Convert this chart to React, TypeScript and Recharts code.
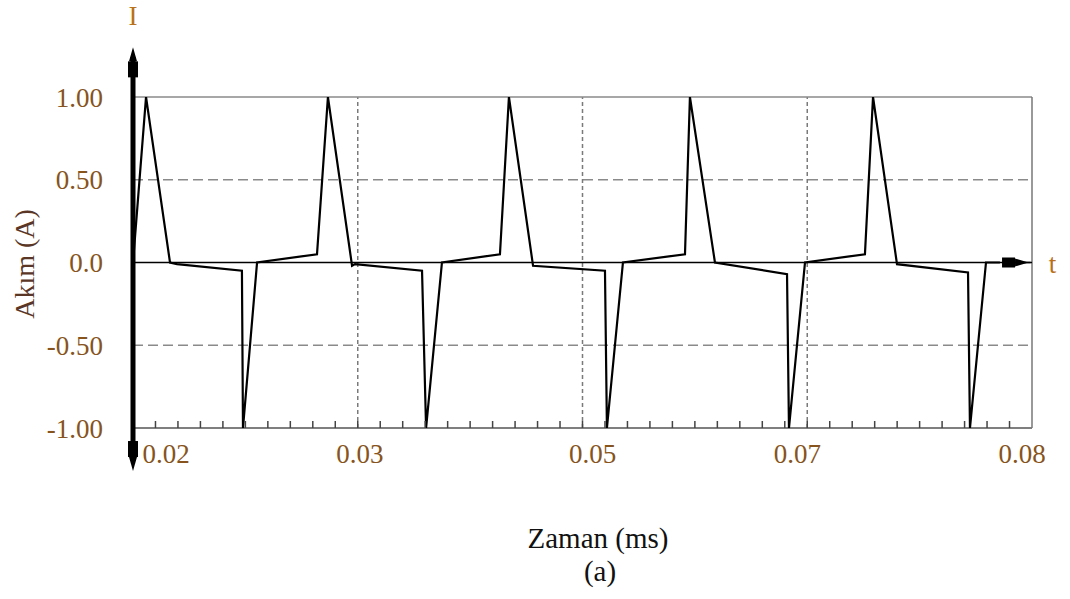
import React from 'react'
import { LineChart, Line, XAxis, YAxis, ReferenceLine } from 'recharts'

// waveform (time in ms, current in A)
const TIME_MS = [
  0.02, 0.02087, 0.02247, 0.02294, 0.02727, 0.02734, 0.02828, 0.03228, 0.03301,
  0.03462, 0.03482, 0.03929, 0.03956, 0.04062, 0.04449, 0.04509, 0.0467, 0.0515,
  0.05163, 0.0527, 0.05684, 0.05717, 0.05884, 0.06365, 0.06378, 0.06485, 0.06885,
  0.06939, 0.07099, 0.07573, 0.07586, 0.07693, 0.07786,
]
const CURRENT_A = [
  0.0, 1.0, 0.0, -0.01, -0.05, -1.0, 0.0, 0.05, 1.0,
  -0.02, -0.01, -0.05, -1.0, 0.0, 0.05, 1.0, -0.02, -0.05,
  -1.0, 0.0, 0.05, 1.0, 0.0, -0.07, -1.0, 0.0, 0.05,
  1.0, -0.01, -0.06, -1.0, 0.0, 0.0,
]

const X_TICKS = [0.02, 0.035, 0.05, 0.065, 0.08]
const X_TICK_LABELS = ['0.02', '0.03', '0.05', '0.07', '0.08']
const X_GRID = [0.035, 0.05, 0.065]
const Y_TICKS = [-1, -0.5, 0, 0.5, 1]
const Y_TICK_LABELS = ['-1.00', '-0.50', '0.0', '0.50', '1.00']
const Y_GRID = [-0.5, 0.5]
// 10 small divisions between each labelled x tick
const X_MINOR_TICKS = Array.from({ length: 39 }, (_, i) => 0.02 + (i + 1) * 0.0015)

const data = TIME_MS.map((t, i) => ({ t, i: CURRENT_A[i] }))

const FONT = '"Liberation Serif", "Times New Roman", serif'
const TICK_COLOR = '#86541c'
const ACCENT = '#b8711a'
const X_LABEL_NUDGE = [33, 2, 10, -10, -10]

const XTick = (props: any) => {
  const { x, y, index } = props
  return (
    <text x={x + X_LABEL_NUDGE[index]} y={y} dy="0.71em" textAnchor="middle" fill={TICK_COLOR} fontSize={27} fontFamily={FONT}>
      {X_TICK_LABELS[index]}
    </text>
  )
}

const YTick = (props: any) => {
  const { x, y, index } = props
  return (
    <text x={x} y={y} dy="0.36em" textAnchor="end" fill={TICK_COLOR} fontSize={27} fontFamily={FONT}>
      {Y_TICK_LABELS[index]}
    </text>
  )
}

// small inward tick marks along the bottom edge
const MinorTick = (props: any) => {
  const { x, y } = props
  return <line x1={x} y1={y} x2={x} y2={y - 7} stroke="#444" strokeWidth={1.5} />
}

// thick vertical axis with arrow heads on both ends
const VerticalAxisShape = (props: any) => {
  const { x1, y1, y2 } = props
  return (
    <g>
      <line x1={x1} y1={y1 + 10} x2={x1} y2={y2 - 10} stroke="#000" strokeWidth={5} />
      <polygon points={`${x1},${y1} ${x1 - 4},${y1 + 14} ${x1 + 4},${y1 + 14}`} fill="#000" />
      <rect x={x1 - 5} y={y1 + 14} width={10} height={16} fill="#000" />
      <rect x={x1 - 5} y={y2 - 30} width={10} height={16} fill="#000" />
      <polygon points={`${x1},${y2} ${x1 - 4},${y2 - 14} ${x1 + 4},${y2 - 14}`} fill="#000" />
      <text x={x1} y={y1 - 22} textAnchor="middle" fill={ACCENT} fontSize={27} fontFamily={FONT}>I</text>
    </g>
  )
}

const TimeArrowShape = (props: any) => {
  const { x1, y1, x2 } = props
  return (
    <g>
      <line x1={x1} y1={y1} x2={x2} y2={y1} stroke="#000" strokeWidth={1.5} />
      <rect x={x1} y={y1 - 5} width={13} height={10} fill="#000" />
      <polygon points={`${x2 - 2},${y1} ${x1 + 13},${y1 - 4} ${x1 + 13},${y1 + 4}`} fill="#000" />
      <text x={x2 + 22} y={y1 + 10} textAnchor="middle" fill={ACCENT} fontSize={27} fontFamily={FONT}>t</text>
    </g>
  )
}

export default function App() {
  return (
    <div style={{ position: 'absolute', left: 0, top: 0, width: 1070, height: 599, background: '#fff' }}>
      <LineChart width={1070} height={599} data={data} margin={{ top: 97, right: 38, bottom: 0, left: 0 }}>
        <XAxis
          dataKey="t"
          type="number"
          domain={[0.02, 0.08]}
          ticks={X_TICKS}
          interval={0}
          height={171}
          axisLine={false}
          tickLine={false}
          tickSize={0}
          tickMargin={16}
          tick={<XTick />}
          allowDataOverflow
        />
        <XAxis
          xAxisId="minor"
          dataKey="t"
          type="number"
          domain={[0.02, 0.08]}
          ticks={X_MINOR_TICKS}
          interval={0}
          height={10}
          mirror
          axisLine={false}
          tickLine={false}
          tickSize={0}
          tickMargin={0}
          tick={<MinorTick />}
          allowDataOverflow
        />
        <YAxis
          type="number"
          domain={[-1, 1]}
          ticks={Y_TICKS}
          interval={0}
          width={133}
          axisLine={false}
          tickLine={false}
          tickSize={0}
          tickMargin={30}
          tick={<YTick />}
          allowDataOverflow
          label={{
            content: () => (
              <text transform="translate(34,264) rotate(-90)" textAnchor="middle" fill="#5a3626" fontSize={28} fontFamily={FONT}>
                Akım (A)
              </text>
            ),
          }}
        />
        {Y_GRID.map((v) => (
          <ReferenceLine key={`yg${v}`} y={v} stroke="#8a8a8a" strokeWidth={1.5} strokeDasharray="10 5" />
        ))}
        {X_GRID.map((v) => (
          <ReferenceLine key={`xg${v}`} x={v} stroke="#7a7a7a" strokeWidth={1.5} strokeDasharray="4 3" />
        ))}
        <ReferenceLine y={1} stroke="#8a8a8a" strokeWidth={1.5} />
        <ReferenceLine y={-1} stroke="#555" strokeWidth={1.5} />
        <ReferenceLine x={0.08} stroke="#777" strokeWidth={1.5} />
        <ReferenceLine y={0} stroke="#000" strokeWidth={1.5} />
        <Line
          type="linear"
          dataKey="i"
          stroke="#000"
          strokeWidth={2.2}
          dot={false}
          activeDot={false}
          isAnimationActive={false}
        />
        <ReferenceLine
          segment={[{ x: 0.078, y: 0 }, { x: 0.0799, y: 0 }]}
          ifOverflow="visible"
          shape={<TimeArrowShape />}
        />
        <ReferenceLine
          segment={[{ x: 0.02, y: 1.3 }, { x: 0.02, y: -1.26 }]}
          ifOverflow="visible"
          shape={<VerticalAxisShape />}
        />
      </LineChart>
      <div style={{ position: 'absolute', left: 0, top: 0 }}>
        <svg width={1070} height={599} style={{ position: 'absolute', left: 0, top: 0, pointerEvents: 'none' }}>
          <text x={598} y={548} textAnchor="middle" fill="#111" fontSize={29} fontFamily={FONT}>Zaman (ms)</text>
          <text x={600} y={581} textAnchor="middle" fill="#111" fontSize={29} fontFamily={FONT}>(a)</text>
        </svg>
      </div>
    </div>
  )
}
